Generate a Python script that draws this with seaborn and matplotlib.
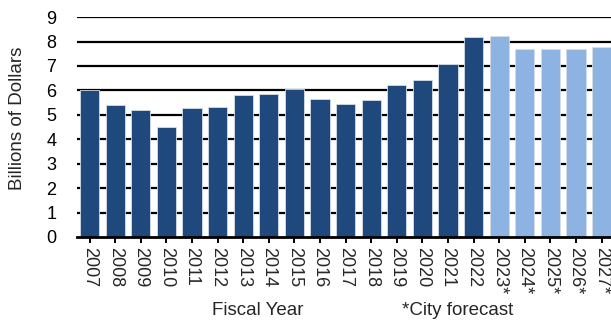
import matplotlib
matplotlib.use("Agg")
import matplotlib.pyplot as plt
import seaborn as sns
import pandas as pd

years = ["2007", "2008", "2009", "2010", "2011", "2012", "2013", "2014", "2015",
         "2016", "2017", "2018", "2019", "2020", "2021", "2022",
         "2023*", "2024*", "2025*", "2026*", "2027*"]
values = [6.00, 5.39, 5.18, 4.49, 5.27, 5.33, 5.81, 5.84, 6.04,
          5.63, 5.43, 5.59, 6.20, 6.42, 7.08, 8.20,
          8.24, 7.69, 7.69, 7.69, 7.77]
kind = ["Actual"] * 16 + ["Forecast"] * 5
colors = {"Actual": "#1F497D", "Forecast": "#8DB3E2"}

df = pd.DataFrame({"year": years, "value": values, "kind": kind})

sns.set_theme(style="white")
plt.rcParams["font.family"] = ["Liberation Sans", "DejaVu Sans"]

fig = plt.figure(figsize=(6.11, 3.22), dpi=100)
ax = fig.add_axes([0.126, 0.264, 0.874, 0.683])

# horizontal gridlines drawn beneath the bars
for yv in range(1, 10):
    ax.axhline(yv, color="black", lw=1.6, zorder=0)

sns.barplot(data=df, x="year", y="value", hue="kind", palette=colors,
            saturation=1, dodge=False, width=0.75, legend=False, ax=ax,
            edgecolor="#d5dce6", linewidth=0.6, zorder=2)

ax.set_ylim(0, 9)
ax.set_xlim(-0.49, 20.37)
ax.set_yticks(range(0, 10))
ax.tick_params(axis="y", length=0, labelsize=13, pad=15, colors="black")
ax.tick_params(axis="x", length=4, width=1.4, color="black", direction="out",
               labelsize=13, pad=3, labelrotation=-90, bottom=True)
for lbl in ax.get_xticklabels():
    lbl.set_va("top")
    lbl.set_ha("center")

for s in ["left", "right", "top"]:
    ax.spines[s].set_visible(False)
ax.spines["bottom"].set_color("black")
ax.spines["bottom"].set_linewidth(2)
ax.spines["bottom"].set_zorder(3)

ax.set_ylabel("")
ax.set_xlabel("")
fig.text(18 / 611, 1 - 118 / 322, "Billions of Dollars", fontsize=13.5,
         rotation=90, ha="center", va="center")
fig.text(258 / 611, 0.022, "Fiscal Year", fontsize=13.5, ha="center", va="baseline")
fig.text(458 / 611, 0.022, "*City forecast", fontsize=13.5, ha="center", va="baseline")

fig.savefig("out.png", dpi=100)
